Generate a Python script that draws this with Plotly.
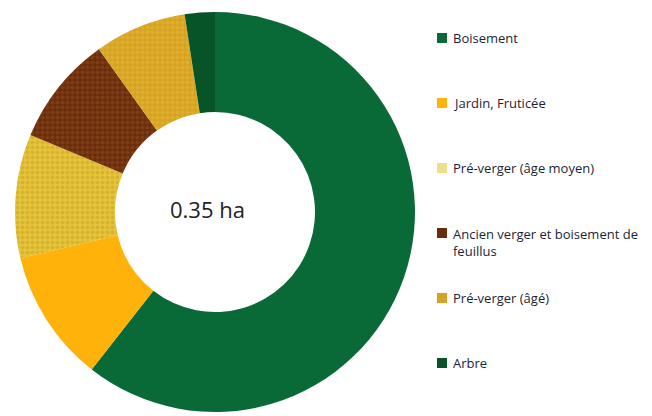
import plotly.graph_objects as go

# Data (ha)
labels = ["Boisement", "Jardin, Fruticée", "Pré-verger (âge moyen)",
          "Ancien verger et boisement de<br>feuillus", "Pré-verger (âgé)", "Arbre"]
values = [0.212, 0.0375, 0.035, 0.031, 0.026, 0.0085]
colors = ["#0A6A37", "#FFB20A", "#E6C53C", "#6A2D0C", "#D6A222", "#075428"]
pattern_shapes = ["", "", ".", ".", ".", ""]
pattern_fg = ["#0A6A37", "#FFB20A", "#C9A21E", "#8E4E1E", "#E8B93A", "#075428"]
legend_swatch = ["#0A6A37", "#FFB20A", "#EDE08A", "#6A2D0C", "#D6A222", "#075428"]
center_text = "0.35 ha"

W, H = 652, 416

fig = go.Figure()
fig.add_trace(go.Pie(
    labels=labels,
    values=values,
    hole=0.5,
    sort=False,
    direction="clockwise",
    rotation=0,
    textinfo="none",
    showlegend=False,
    marker=dict(
        colors=colors,
        line=dict(width=0),
        pattern=dict(shape=pattern_shapes, fgcolor=pattern_fg,
                     size=5, solidity=0.5, fillmode="overlay"),
    ),
    domain=dict(x=[15 / W, 415 / W], y=[4 / H, 404 / H]),
))

annotations = [dict(
    text=center_text, x=207 / W, y=1 - 209 / H, xref="paper", yref="paper",
    showarrow=False, font=dict(family="Open Sans", size=22, color="#222222"),
    xanchor="center", yanchor="middle",
)]
shapes = []

# legend drawn from the label / colour arrays
y0, step = 38, 65
for i, (lab, col) in enumerate(zip(labels, legend_swatch)):
    yc = y0 + step * i
    nlines = lab.count("<br>") + 1
    text_center = yc + (nlines - 1) * 9
    shapes.append(dict(
        type="rect", xref="paper", yref="paper",
        x0=437 / W, x1=447 / W, y0=1 - (yc - 5) / H, y1=1 - (yc + 5) / H,
        fillcolor=col, line=dict(width=0),
    ))
    annotations.append(dict(
        text=lab, x=451 / W, y=1 - text_center / H, xref="paper", yref="paper",
        showarrow=False, align="left", xanchor="left", yanchor="middle",
        font=dict(family="Open Sans", size=13, color="#1A1F3A"),
    ))

fig.update_layout(
    width=W, height=H,
    margin=dict(l=0, r=0, t=0, b=0),
    paper_bgcolor="white", plot_bgcolor="white",
    annotations=annotations, shapes=shapes,
)

fig.write_html("out.html")
